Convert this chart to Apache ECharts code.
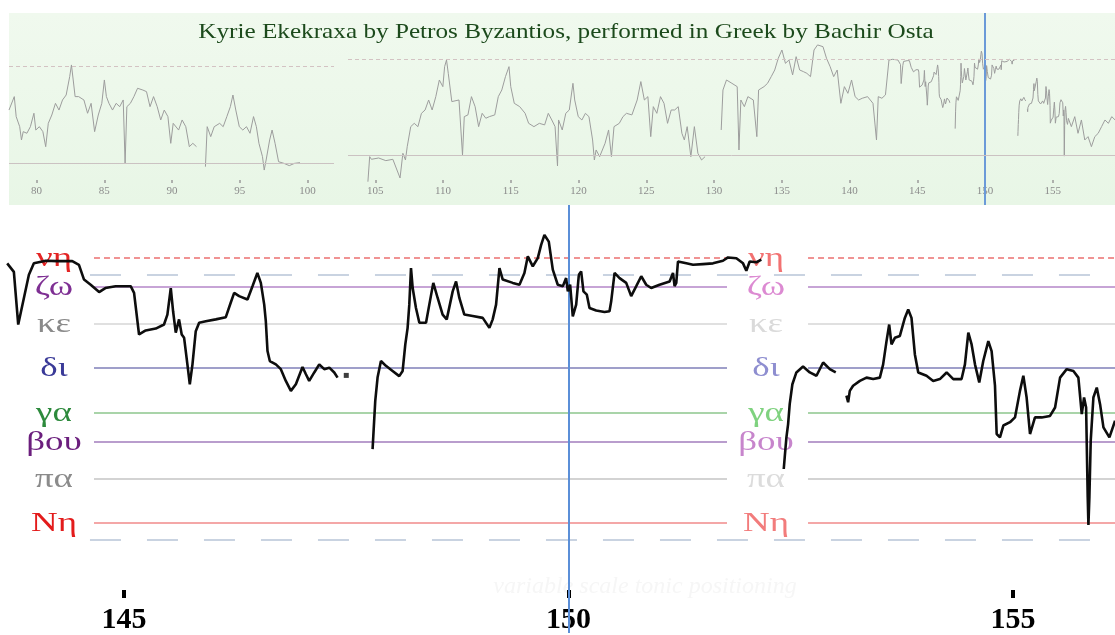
<!DOCTYPE html>
<html>
<head>
<meta charset="utf-8">
<title>Kyrie Ekekraxa</title>
<script src="https://cdn.jsdelivr.net/npm/echarts@6/dist/echarts.min.js"></script>
<style>
  html, body { margin: 0; padding: 0; background: #fff; }
  #chart { width: 1115px; height: 635px; }
</style>
</head>
<body>
<div id="chart"></div>
<script>
// scale degrees, in moria above the low Νη
var degreeNames = ['Νη', 'πα', 'βου', 'γα', 'δι', 'κε', 'ζω', 'νη'];
var degreeMoria = [0, 12, 22, 30, 42, 54, 64, 72];
var degreeLabelColors = ['#e31b1b', '#8b8b8b', '#6b1e7d', '#2d8a3c', '#3a3a98', '#8a8a8a', '#7e2f93', '#e32424'];
var degreeFadedColors = ['#f27c7c', '#dcdcdc', '#c785cc', '#7fd27f', '#8e8ed0', '#dadada', '#dc8ad2', '#f27272'];
var degreeLineColors = ['#f08a8a', '#c4c4c4', '#a27cbc', '#8cc68c', '#7f7fb9', '#d6d6d6', '#b486c8', '#ec7070'];
var tonicGuides = [-4.7, 67.2];

var mainTicks = [145, 150, 155];
var overviewTicks = [80, 85, 90, 95, 100, 105, 110, 115, 120, 125, 130, 135, 140, 145, 150, 155];
var cursorTime = 150;

// pitch trace [time (s), moria] shown in the zoomed view
var pitchSeg1 = [[143.686,70.4],[143.761,68.1],[143.81,53.8],[143.93,67.3],[143.986,70.4],[144.08,70.9],[144.12,71.1],[144.25,71.0],[144.418,71.0],[144.493,70.0],[144.55,66.0],[144.625,64.6],[144.72,62.6],[144.79,63.7],[144.906,64.2],[145.075,64.2],[145.113,62.4],[145.169,51.1],[145.244,52.2],[145.357,52.7],[145.45,53.8],[145.488,56.5],[145.526,63.7],[145.552,57.4],[145.582,51.6],[145.619,55.2],[145.649,51.1],[145.676,50.2],[145.713,43.0],[145.74,37.6],[145.77,43.0],[145.807,52.0],[145.845,54.3],[145.92,54.7],[146.032,55.2],[146.145,55.8],[146.2,59.7],[146.239,62.4],[146.295,61.5],[146.389,60.6],[146.445,64.2],[146.5,67.8],[146.539,65.1],[146.577,59.2],[146.595,54.7],[146.614,46.6],[146.64,43.9],[146.708,43.0],[146.764,41.7],[146.82,38.5],[146.877,35.8],[146.933,37.6],[147.008,42.3],[147.046,40.3],[147.083,38.5],[147.14,40.8],[147.196,43.0],[147.252,41.7],[147.309,42.1],[147.365,40.8],[147.402,39.4]];
var pitchDots = [[147.5,40.0]];
var pitchSeg2 = [[147.796,20.0],[147.826,33.1],[147.852,39.4],[147.89,43.9],[147.946,42.6],[148.021,41.2],[148.096,39.8],[148.134,41.2],[148.164,48.4],[148.19,52.9],[148.209,59.2],[148.228,69.1],[148.247,63.7],[148.284,58.3],[148.322,54.3],[148.397,54.3],[148.434,59.2],[148.479,65.1],[148.528,61.0],[148.584,56.5],[148.63,55.2],[148.697,62.8],[148.735,65.5],[148.772,61.0],[148.828,56.5],[148.922,56.1],[149.035,55.6],[149.11,52.9],[149.147,55.2],[149.185,59.2],[149.223,69.1],[149.26,66.0],[149.373,65.1],[149.448,64.6],[149.504,67.8],[149.542,72.3],[149.598,69.6],[149.654,71.8],[149.692,75.4],[149.729,78.1],[149.778,76.3],[149.823,68.7],[149.879,64.6],[149.936,64.2],[149.973,66.4],[149.992,62.8],[150.018,64.6],[150.048,56.0],[150.086,59.2],[150.116,67.3],[150.142,68.2],[150.168,62.8],[150.206,61.9],[150.236,58.3],[150.311,57.6],[150.405,57.2],[150.461,57.4],[150.48,60.1],[150.518,67.8],[150.574,66.4],[150.649,65.1],[150.705,61.5],[150.762,64.2],[150.818,66.9],[150.874,64.6],[150.93,63.7],[151.024,64.6],[151.137,65.5],[151.175,67.8],[151.193,64.2],[151.212,65.1],[151.231,70.9],[151.325,70.4],[151.4,70.0],[151.512,70.2],[151.625,70.4],[151.737,71.1],[151.794,72.0],[151.888,71.8],[151.963,70.4],[152.0,68.4],[152.038,70.9],[152.113,70.7],[152.169,71.4]];
var pitchSeg3 = [[152.421,14.6],[152.432,17.8],[152.451,23.2],[152.47,26.8],[152.488,32.2],[152.518,37.6],[152.563,40.8],[152.638,42.4],[152.714,40.8],[152.789,39.9],[152.864,43.5],[152.939,41.7],[153.006,40.8]];
var pitchSeg4 = [[153.126,34.5],[153.145,32.7],[153.164,35.8],[153.201,37.2],[153.277,38.5],[153.352,39.4],[153.427,39.0],[153.502,39.4],[153.539,43.0],[153.577,49.3],[153.607,53.8],[153.633,48.4],[153.671,50.2],[153.727,50.7],[153.783,55.6],[153.821,57.9],[153.858,55.6],[153.896,45.7],[153.934,40.8],[154.027,39.9],[154.102,38.5],[154.177,39.0],[154.253,40.8],[154.328,39.0],[154.421,39.0],[154.459,43.0],[154.497,51.6],[154.534,48.4],[154.572,43.0],[154.62,38.1],[154.665,43.9],[154.722,49.3],[154.759,46.6],[154.797,37.2],[154.816,24.1],[154.853,23.2],[154.891,26.4],[154.966,27.3],[155.022,28.6],[155.078,35.8],[155.116,39.9],[155.153,34.0],[155.191,24.1],[155.247,28.6],[155.322,28.6],[155.416,29.0],[155.473,31.3],[155.529,39.4],[155.604,41.7],[155.679,41.2],[155.735,39.4],[155.773,29.5],[155.799,34.0],[155.822,31.3],[155.84,7.0],[155.848,-0.6],[155.859,7.0],[155.874,22.3],[155.904,34.0],[155.942,36.7],[155.979,32.2],[156.017,25.9],[156.084,23.2],[156.148,27.7]];

// overview: first phrase (own tonic position)
var overviewA1 = [[77.97,39.7],[78.36,49.7],[78.50,34.8],[78.76,27.3],[78.89,17.4],[79.02,23.6],[79.29,22.4],[79.55,27.3],[79.81,37.3],[79.95,24.8],[80.21,27.3],[80.47,23.6],[80.68,12.4],[80.87,29.8],[81.13,36.0],[81.40,44.7],[81.66,39.7],[81.92,47.2],[82.19,50.9],[82.45,64.6],[82.58,73.3],[82.71,62.1],[82.85,49.7],[83.11,49.7],[83.50,47.2],[83.77,37.3],[84.03,44.7],[84.29,23.6],[84.56,36.0],[84.82,44.7],[85.01,62.1],[85.16,49.7],[85.35,44.7],[85.61,39.7],[85.88,44.7],[86.14,42.2],[86.40,47.2],[86.54,0],[86.67,42.2],[86.93,44.7],[87.19,49.7],[87.46,55.9],[87.85,54.6],[88.12,53.4],[88.38,42.2],[88.64,49.7],[88.91,42.2],[89.17,32.3],[89.43,39.7],[89.70,34.8],[89.91,14.9],[90.09,29.8],[90.49,24.8],[90.75,32.3],[91.02,27.3],[91.28,12.4],[91.54,14.9],[91.81,12.4]];
var overviewA2 = [[92.47,-2.5],[92.60,27.3],[92.86,19.9],[93.12,27.3],[93.52,29.8],[93.78,27.3],[94.05,34.8],[94.31,42.2],[94.50,50.9],[94.71,39.7],[94.97,27.3],[95.23,24.8],[95.50,27.3],[95.76,22.4],[96.02,34.8],[96.23,27.3],[96.42,14.9],[96.68,5.0],[96.81,-5.0],[96.95,2.5],[97.21,17.4],[97.39,24.8],[97.61,14.9],[97.87,1.2],[98.26,0],[98.66,-1.7],[99.05,0],[99.45,0.5]];
// overview: second phrase
var overviewB1 = [[104.46,-19.8],[104.59,-1.0],[104.72,-3.0],[105.25,-2.0],[105.78,-4.0],[106.30,-3.0],[106.83,-17.0],[107.04,1.5],[107.23,-3.5],[107.36,6.5],[107.62,21.5],[107.88,24.0],[108.15,21.5],[108.41,31.5],[108.68,34.0],[108.94,41.5],[109.20,34.0],[109.47,44.0],[109.73,56.5],[109.99,51.5],[110.12,66.5],[110.26,71.5],[110.39,61.5],[110.65,40.3],[111.18,41.5],[111.44,0.3],[111.57,29.0],[111.84,30.3],[112.10,44.0],[112.37,36.5],[112.63,21.5],[112.89,31.5],[113.16,27.8],[113.42,29.0],[113.82,30.3],[114.08,44.0],[114.34,49.0],[114.61,59.0],[114.87,66.5],[115.00,51.5],[115.26,39.0],[115.66,36.5],[116.06,31.5],[116.32,24.0],[116.71,21.5],[117.11,24.0],[117.50,22.8],[117.77,31.5],[118.03,26.5],[118.27,21.5],[118.45,-8.0],[118.53,26.5],[118.80,19.0],[119.06,31.5],[119.32,34.0],[119.59,54.0],[119.72,41.5],[119.98,29.0],[120.25,26.5],[120.51,31.5],[120.77,29.0],[121.04,11.5],[121.17,-3.5],[121.30,4.0],[121.56,-1.0],[121.96,9.0],[122.22,19.0],[122.43,-1.0],[122.62,21.5],[123.01,24.0],[123.28,29.0],[123.54,31.5],[123.94,30.3],[124.33,41.5],[124.60,55.3],[124.86,41.5],[125.12,44.0],[125.33,14.0],[125.52,36.5],[125.78,31.5],[126.05,44.0],[126.31,39.0],[126.57,24.0],[126.84,34.0],[127.10,34.0],[127.36,36.5],[127.63,16.5],[127.81,11.5],[128.02,21.5],[128.29,-1.0],[128.55,21.5],[128.81,1.5],[129.08,-3.5],[129.34,-1.0]];
var overviewB2 = [[130.53,19.0],[130.66,49.0],[130.92,56.5],[131.32,54.0],[131.71,51.5],[131.84,4.0],[131.98,41.5],[132.24,36.5],[132.50,44.0],[132.90,41.5],[133.16,14.0],[133.29,49.0],[133.69,51.5],[133.95,54.0],[134.22,59.0],[134.48,64.0],[134.74,72.8],[135.01,79.0],[135.27,69.0],[135.53,71.5],[135.80,60.3],[136.06,74.0],[136.32,64.0],[136.59,62.8],[136.85,61.5],[137.12,59.0],[137.38,79.0],[137.64,82.8],[138.04,81.5],[138.30,72.8],[138.57,66.5],[138.83,59.0],[139.09,64.0],[139.36,39.0],[139.62,51.5],[139.88,46.5],[140.15,56.5],[140.41,44.0],[140.67,41.5],[140.94,42.8],[141.33,44.0],[141.73,39.0],[141.99,11.5],[142.12,44.0],[142.39,42.8],[142.65,45.3],[142.91,71.5],[143.18,72.0],[143.57,71.5]];
var overviewB3 = [[156.37,21.5],[156.62,29.0],[156.86,16.5],[157.11,26.5],[157.36,11.5],[157.60,14.0],[157.85,6.5],[158.10,14.0],[158.35,16.5],[158.60,21.5],[158.85,26.5],[159.10,24.0],[159.35,29.0],[159.60,26.5]];

function joinSegments(segs) {
  var out = [];
  segs.forEach(function (s, i) {
    if (i) out.push(['-', '-']);
    out = out.concat(s);
  });
  return out;
}

// horizontal degree lines, split around the middle labels
var mainStart = 143.605, mainEnd = 156.147;
var spans = [[144.662, 151.783], [152.694, mainEnd]];
var degreeLines = [];
degreeMoria.forEach(function (m, i) {
  spans.forEach(function (sp) {
    degreeLines.push([
      { coord: [sp[0], m], lineStyle: { color: degreeLineColors[i], width: 1.5, type: i === 7 ? [6, 4] : 'solid' } },
      { coord: [sp[1], m] }
    ]);
  });
});
tonicGuides.forEach(function (m) {
  degreeLines.push([
    { coord: [144.617, m], lineStyle: { color: '#c9d3e1', width: 2, type: [31, 26] } },
    { coord: [mainEnd, m] }
  ]);
});

function labelRender(colors) {
  return function (params, api) {
    var p = api.coord([api.value(0), api.value(1)]);
    var i = api.value(2);
    return {
      type: 'text', x: p[0], y: p[1] + 1, scaleX: 1.32,
      style: {
        text: degreeNames[i], fill: colors[i], font: '28px "Liberation Serif"',
        textAlign: 'center', textVerticalAlign: 'middle'
      }
    };
  };
}

function overviewLines(x0, x1) {
  return [
    [{ coord: [x0, 72], lineStyle: { color: '#d3c3c3', width: 1, type: [4, 3] } }, { coord: [x1, 72] }],
    [{ coord: [x0, 0], lineStyle: { color: '#cbc2c2', width: 1, type: 'solid' } }, { coord: [x1, 0] }]
  ];
}

var chart = echarts.init(document.getElementById('chart'), null, { renderer: 'canvas' });
var option = {
  animation: false,
  backgroundColor: '#ffffff',
  graphic: [{
    type: 'text', x: 566, y: 32, z: 20, scaleX: 1.2,
    style: { text: 'Kyrie Ekekraxa by Petros Byzantios, performed in Greek by Bachir Osta', fill: '#1c4a1c',
      font: '21px "Liberation Serif"', textAlign: 'center', textVerticalAlign: 'middle' }
  }, {
    type: 'text', x: 645, y: 587, z: 0,
    style: { text: 'variable scale tonic positioning', fill: '#f6f6f6', font: 'italic 24px "Liberation Serif"', textAlign: 'center', textVerticalAlign: 'middle' }
  }],
  grid: [
    { left: 0, top: 205, width: 1115, height: 430 },
    { left: 9, top: 13, width: 1106, height: 192, show: true, borderWidth: 0,
      backgroundColor: new echarts.graphic.LinearGradient(0, 0, 0, 1, [
        { offset: 0, color: '#f0f9ee' }, { offset: 1, color: '#e8f6e6' }]) },
    { left: 9, top: 29.1, width: 325, height: 174.5 },
    { left: 348, top: 22, width: 767, height: 173.3 }
  ],
  xAxis: [
    { gridIndex: 0, type: 'value', min: mainStart, max: mainEnd, offset: -35,
      axisLine: { show: false, onZero: false }, splitLine: { show: false },
      axisTick: { show: true, inside: true, length: 8, customValues: mainTicks, lineStyle: { color: '#000', width: 4 } },
      axisLabel: { customValues: mainTicks, margin: 7, color: '#000', fontFamily: 'Liberation Serif', fontWeight: 'bold', fontSize: 30 } },
    { gridIndex: 1, type: 'value', min: 77.97, max: 159.59, offset: -25,
      axisLine: { show: false, onZero: false }, splitLine: { show: false },
      axisTick: { show: true, length: 3, customValues: overviewTicks, lineStyle: { color: '#9a9a9a', width: 1.5 } },
      axisLabel: { customValues: overviewTicks, margin: 6, color: '#8c8c8c', fontFamily: 'Liberation Serif', fontSize: 11 } },
    { gridIndex: 2, type: 'value', min: 77.97, max: 101.96, show: false },
    { gridIndex: 3, type: 'value', min: 102.99, max: 159.59, show: false }
  ],
  yAxis: [
    { gridIndex: 0, type: 'value', min: -29.89, max: 86.23, show: false },
    { gridIndex: 1, type: 'value', min: 0, max: 1, show: false },
    { gridIndex: 2, type: 'value', min: -30, max: 100, show: false },
    { gridIndex: 3, type: 'value', min: -30, max: 100, show: false }
  ],
  series: [
    { type: 'line', xAxisIndex: 0, yAxisIndex: 0, data: [], z: 1, silent: true,
      markLine: { silent: true, symbol: ['none', 'none'], label: { show: false }, data: degreeLines } },
    { type: 'custom', xAxisIndex: 0, yAxisIndex: 0, z: 2, silent: true,
      data: degreeMoria.map(function (m, i) { return [144.212, m, i]; }),
      renderItem: labelRender(degreeLabelColors) },
    { type: 'custom', xAxisIndex: 0, yAxisIndex: 0, z: 2, silent: true,
      data: degreeMoria.map(function (m, i) { return [152.221, m, i]; }),
      renderItem: labelRender(degreeFadedColors) },
    { type: 'line', xAxisIndex: 0, yAxisIndex: 0, z: 5, showSymbol: false, connectNulls: false,
      lineStyle: { color: '#0d0d0d', width: 2.6 },
      data: joinSegments([pitchSeg1, pitchSeg2, pitchSeg3, pitchSeg4]) },
    { type: 'scatter', xAxisIndex: 0, yAxisIndex: 0, z: 5, symbol: 'rect', symbolSize: 5,
      itemStyle: { color: '#0d0d0d' }, data: pitchDots },
    { type: 'line', xAxisIndex: 0, yAxisIndex: 0, data: [], z: 10,
      markLine: { silent: true, symbol: ['none', 'none'], label: { show: false },
        lineStyle: { color: '#5b8fd8', width: 2, type: 'solid' }, data: [{ xAxis: cursorTime }] } },
    { type: 'line', xAxisIndex: 1, yAxisIndex: 1, data: [], z: 10,
      markLine: { silent: true, symbol: ['none', 'none'], label: { show: false },
        lineStyle: { color: '#6b9ad8', width: 2, type: 'solid' }, data: [{ xAxis: cursorTime }] } },
    { type: 'line', xAxisIndex: 2, yAxisIndex: 2, z: 3, showSymbol: false,
      lineStyle: { color: '#9d9d9d', width: 1 },
      data: joinSegments([overviewA1, overviewA2]),
      markLine: { silent: true, symbol: ['none', 'none'], label: { show: false }, data: overviewLines(77.97, 101.96) } },
    { type: 'line', xAxisIndex: 3, yAxisIndex: 3, z: 3, showSymbol: false,
      lineStyle: { color: '#9d9d9d', width: 1 },
      data: joinSegments([overviewB1, overviewB2.concat(pitchSeg1), pitchDots, pitchSeg2, pitchSeg3, pitchSeg4.concat(overviewB3)]),
      markLine: { silent: true, symbol: ['none', 'none'], label: { show: false }, data: overviewLines(102.99, 159.59) } }
  ]
};
chart.setOption(option);
</script>
</body>
</html>
